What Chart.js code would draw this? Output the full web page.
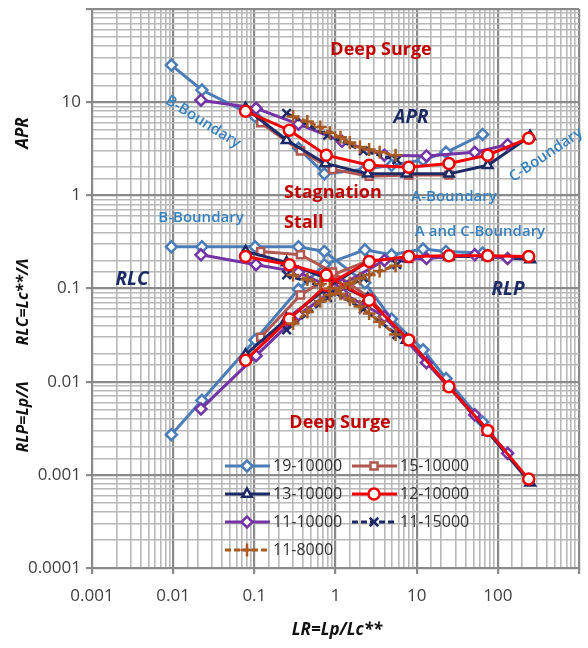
<!DOCTYPE html>
<html>
<head>
<meta charset="utf-8">
<script src="https://cdn.jsdelivr.net/npm/chart.js@4.4.0/dist/chart.umd.min.js"></script>
<style>
  body { margin: 0; background: #fff; }
  #wrap { width: 588px; height: 648px; }
</style>
</head>
<body>
<div id="wrap"><canvas id="chart"></canvas></div>
<script>
// LR = Lp/Lc** for each test, with APR, RLC and RLP read at the same LR points

// 19-10000
const lr19  = [0.0095, 0.0226, 0.102, 0.35, 0.73, 2.3, 4.9, 12, 23, 65];
const apr19 = [25, 13.5, 7.0, 3.2, 1.7, 1.9, 2.1, 2.4, 2.9, 4.5];
const rlc19 = [0.28, 0.28, 0.28, 0.28, 0.25, 0.115, 0.047, 0.022, 0.0108, 0.0037];
const rlp19 = [0.0027, 0.0063, 0.028, 0.098, 0.18, 0.26, 0.23, 0.265, 0.25, 0.24];

// 13-10000
const lr13  = [0.078, 0.25, 0.75, 2.5, 7.5, 25, 75, 250];
const apr13 = [8.6, 3.9, 2.2, 1.7, 1.7, 1.7, 2.1, 4.3];
const rlc13 = [0.25, 0.19, 0.13, 0.078, 0.028, 0.0088, 0.0029, 0.00082];
const rlp13 = [0.0195, 0.047, 0.098, 0.195, 0.21, 0.22, 0.22, 0.205];

// 11-10000
const lr11  = [0.022, 0.105, 0.35, 1.2, 4.0, 13.2, 52, 132];
const apr11 = [10.5, 8.6, 5.8, 3.8, 2.7, 2.65, 2.9, 3.5];
const rlc11 = [0.23, 0.18, 0.15, 0.09, 0.05, 0.016, 0.0044, 0.0017];
const rlp11 = [0.0051, 0.019, 0.052, 0.11, 0.2, 0.21, 0.23, 0.21];

// 11-8000
const lr8  = [0.3, 0.45, 0.65, 0.85, 1.15, 1.5, 2.0, 2.6, 3.5, 5.5];
const apr8 = [7.0, 6.2, 5.4, 4.7, 4.2, 3.7, 3.3, 3.1, 2.9, 2.7];
const rlc8 = [0.14, 0.125, 0.112, 0.1, 0.088, 0.076, 0.064, 0.054, 0.044, 0.032];
const rlp8 = [0.042, 0.056, 0.073, 0.085, 0.101, 0.114, 0.128, 0.14, 0.154, 0.176];

// 15-10000
const lr15  = [0.12, 0.37, 0.92, 2.6, 8, 25];
const apr15 = [6.0, 3.0, 1.9, 1.6, 1.65, 1.65];
const rlc15 = [0.25, 0.23, 0.15, 0.08, 0.027, 0.009];
const rlp15 = [0.03, 0.085, 0.14, 0.2, 0.21, 0.22];

// 12-10000
const lr12  = [0.078, 0.27, 0.77, 2.6, 8, 25, 75, 240];
const apr12 = [8.0, 5.0, 2.7, 2.1, 2.0, 2.2, 2.7, 4.1];
const rlc12 = [0.22, 0.18, 0.14, 0.075, 0.028, 0.0088, 0.003, 0.0009];
const rlp12 = [0.017, 0.047, 0.108, 0.195, 0.22, 0.225, 0.225, 0.22];

// 11-15000
const lr15k  = [0.25, 0.8, 2.2, 5.7];
const apr15k = [7.6, 4.4, 3.0, 2.4];
const rlc15k = [0.14, 0.1, 0.06, 0.032];
const rlp15k = [0.036, 0.08, 0.13, 0.18];

const xTicks = [0.001, 0.01, 0.1, 1, 10, 100];
const yTicks = [0.0001, 0.001, 0.01, 0.1, 1, 10];

// one entry per test: label, arrays, look. order: lower = drawn on top
const tests = [
  {label: '19-10000', lr: lr19, apr: apr19, rlc: rlc19, rlp: rlp19, color: '#4a7cb8', point: 'rectRot', radius: 5.5, dash: [], order: 6},
  {label: '13-10000', lr: lr13, apr: apr13, rlc: rlc13, rlp: rlp13, color: '#1c2a66', point: 'triangle', radius: 5.5, dash: [], order: 4},
  {label: '11-10000', lr: lr11, apr: apr11, rlc: rlc11, rlp: rlp11, color: '#7434a6', point: 'rectRot', radius: 5.5, dash: [], order: 3},
  {label: '11-8000', lr: lr8, apr: apr8, rlc: rlc8, rlp: rlp8, color: '#a85a22', point: 'cross', radius: 6.5, dash: [6, 3], order: 0},
  {label: '15-10000', lr: lr15, apr: apr15, rlc: rlc15, rlp: rlp15, color: '#b25650', point: 'rect', radius: 5, dash: [], order: 5},
  {label: '12-10000', lr: lr12, apr: apr12, rlc: rlc12, rlp: rlp12, color: '#f00000', point: 'circle', radius: 5.5, dash: [], order: 1},
  {label: '11-15000', lr: lr15k, apr: apr15k, rlc: rlc15k, rlp: rlp15k, color: '#1c2a66', point: 'crossRot', radius: 6, dash: [6, 3], order: 2}
];

const datasets = [];
tests.forEach(t => {
  ['apr', 'rlc', 'rlp'].forEach(k => {
    datasets.push({
      label: t.label,
      data: t.lr.map((x, i) => ({x: x, y: t[k][i]})),
      showLine: true,
      borderColor: t.color,
      backgroundColor: '#ffffff',
      borderWidth: 3,
      borderDash: t.dash,
      pointStyle: t.point,
      pointRadius: t.radius,
      pointBorderWidth: 2.5,
      pointBorderColor: t.color,
      pointBackgroundColor: '#ffffff',
      order: t.order
    });
  });
});

const legendLeft = ['19-10000', '13-10000', '11-10000', '11-8000'];
const legendRight = ['15-10000', '12-10000', '11-15000'];

// free text on the plot
const notes = [
  {text: 'Deep Surge', x: 381, y: 50, color: '#c00000', font: 'bold 18px "Open Sans"'},
  {text: 'APR', x: 411, y: 118, color: '#1c2a66', font: 'italic bold 19px "Open Sans"'},
  {text: 'B-Boundary', x: 203, y: 122, color: '#3580c0', font: '600 15px "Open Sans"', angle: 32},
  {text: 'C-Boundary', x: 546, y: 155, color: '#3580c0', font: '600 15px "Open Sans"', angle: -34},
  {text: 'A-Boundary', x: 454, y: 197, color: '#3580c0', font: '600 15px "Open Sans"'},
  {text: 'Stagnation', x: 284, y: 193, color: '#c00000', font: 'bold 18px "Open Sans"', align: 'left'},
  {text: 'Stall', x: 284, y: 223, color: '#c00000', font: 'bold 18px "Open Sans"', align: 'left'},
  {text: 'B-Boundary', x: 201, y: 218, color: '#3580c0', font: '600 15px "Open Sans"'},
  {text: 'A and C-Boundary', x: 480, y: 232, color: '#3580c0', font: '600 15px "Open Sans"'},
  {text: 'RLC', x: 132, y: 280, color: '#1c2a66', font: 'italic bold 19px "Open Sans"'},
  {text: 'RLP', x: 508, y: 290, color: '#1c2a66', font: 'italic bold 19px "Open Sans"'},
  {text: 'Deep Surge', x: 340, y: 423, color: '#c00000', font: 'bold 18px "Open Sans"'},
  {text: 'LR=Lp/Lc**', x: 337, y: 630, color: '#111111', font: 'italic bold 17px "Open Sans"'},
  {text: 'APR', x: 23, y: 133, color: '#111111', font: 'italic bold 17px "Open Sans"', angle: -90},
  {text: 'RLC=Lc**/\u039B', x: 23, y: 302, color: '#111111', font: 'italic bold 16px "Open Sans"', angle: -90},
  {text: 'RLP=Lp/\u039B', x: 23, y: 417, color: '#111111', font: 'italic bold 16px "Open Sans"', angle: -90}
];

function isDecade(v) {
  const l = Math.log10(v);
  return Math.abs(l - Math.round(l)) < 1e-6;
}

const textPlugin = {
  id: 'notes',
  afterDraw(chart) {
    const ctx = chart.ctx;
    ctx.save();
    ctx.textBaseline = 'middle';
    notes.forEach(n => {
      ctx.save();
      ctx.translate(n.x, n.y);
      if (n.angle) ctx.rotate(n.angle * Math.PI / 180);
      ctx.textAlign = n.align || 'center';
      ctx.font = n.font;
      ctx.fillStyle = n.color;
      ctx.fillText(n.text, 0, 0);
      ctx.restore();
    });
    ctx.restore();
  }
};

const legendPlugin = {
  id: 'sideLegend',
  afterDraw(chart) {
    const ctx = chart.ctx;
    const cols = [{names: legendLeft, x: 225}, {names: legendRight, x: 352}];
    ctx.save();
    cols.forEach(col => {
      col.names.forEach((name, row) => {
        const t = tests.find(tt => tt.label === name);
        const y = 466 + row * 28;
        ctx.strokeStyle = t.color;
        ctx.lineWidth = 3;
        ctx.setLineDash(t.dash);
        ctx.beginPath();
        ctx.moveTo(col.x, y);
        ctx.lineTo(col.x + 45, y);
        ctx.stroke();
        ctx.setLineDash([]);
        ctx.lineWidth = 2.5;
        ctx.fillStyle = '#ffffff';
        Chart.helpers.drawPoint(ctx, {pointStyle: t.point, radius: t.radius, borderWidth: 2.5, rotation: 0}, col.x + 22, y);
        ctx.fillStyle = '#333333';
        ctx.font = '16px "Open Sans"';
        ctx.textAlign = 'left';
        ctx.textBaseline = 'middle';
        ctx.fillText(name, col.x + 48, y);
      });
    });
    ctx.restore();
  }
};

function gridColor(c) {
  return isDecade(c.tick.value) ? '#8a8a8a' : '#b8b8b8';
}
function gridWidth(c) {
  return isDecade(c.tick.value) ? 2.2 : 1.6;
}
function tickColor(c) {
  return isDecade(c.tick.value) ? '#8a8a8a' : 'rgba(0,0,0,0)';
}

new Chart(document.getElementById('chart'), {
  type: 'scatter',
  data: {datasets: datasets},
  options: {
    responsive: true,
    maintainAspectRatio: false,
    animation: false,
    layout: {padding: {left: 0, right: 2, top: 4, bottom: 0}},
    plugins: {
      legend: {display: false},
      tooltip: {enabled: false}
    },
    scales: {
      x: {
        type: 'logarithmic',
        min: 0.001,
        max: 1000,
        afterFit(scale) { scale.height = 80; scale.paddingLeft = 0; scale.paddingRight = 0; },
        grid: {color: gridColor, lineWidth: gridWidth, tickLength: 6, tickColor: tickColor},
        border: {color: '#8a8a8a', width: 2},
        ticks: {
          autoSkip: false,
          maxRotation: 0,
          padding: 12,
          color: '#404040',
          font: {family: 'Open Sans', size: 17},
          callback: v => (xTicks.some(t => Math.abs(t - v) / t < 1e-6) ? String(v) : '')
        }
      },
      y: {
        type: 'logarithmic',
        min: 0.0001,
        max: 100,
        afterFit(scale) { scale.width = 92; scale.paddingTop = 0; scale.paddingBottom = 0; },
        grid: {color: gridColor, lineWidth: gridWidth, tickLength: 6, tickColor: tickColor},
        border: {color: '#8a8a8a', width: 2},
        ticks: {
          autoSkip: false,
          padding: 5,
          color: '#404040',
          font: {family: 'Open Sans', size: 17},
          callback: v => (yTicks.some(t => Math.abs(t - v) / t < 1e-6) ? String(v) : '')
        }
      }
    }
  },
  plugins: [textPlugin, legendPlugin]
});
</script>
</body>
</html>
